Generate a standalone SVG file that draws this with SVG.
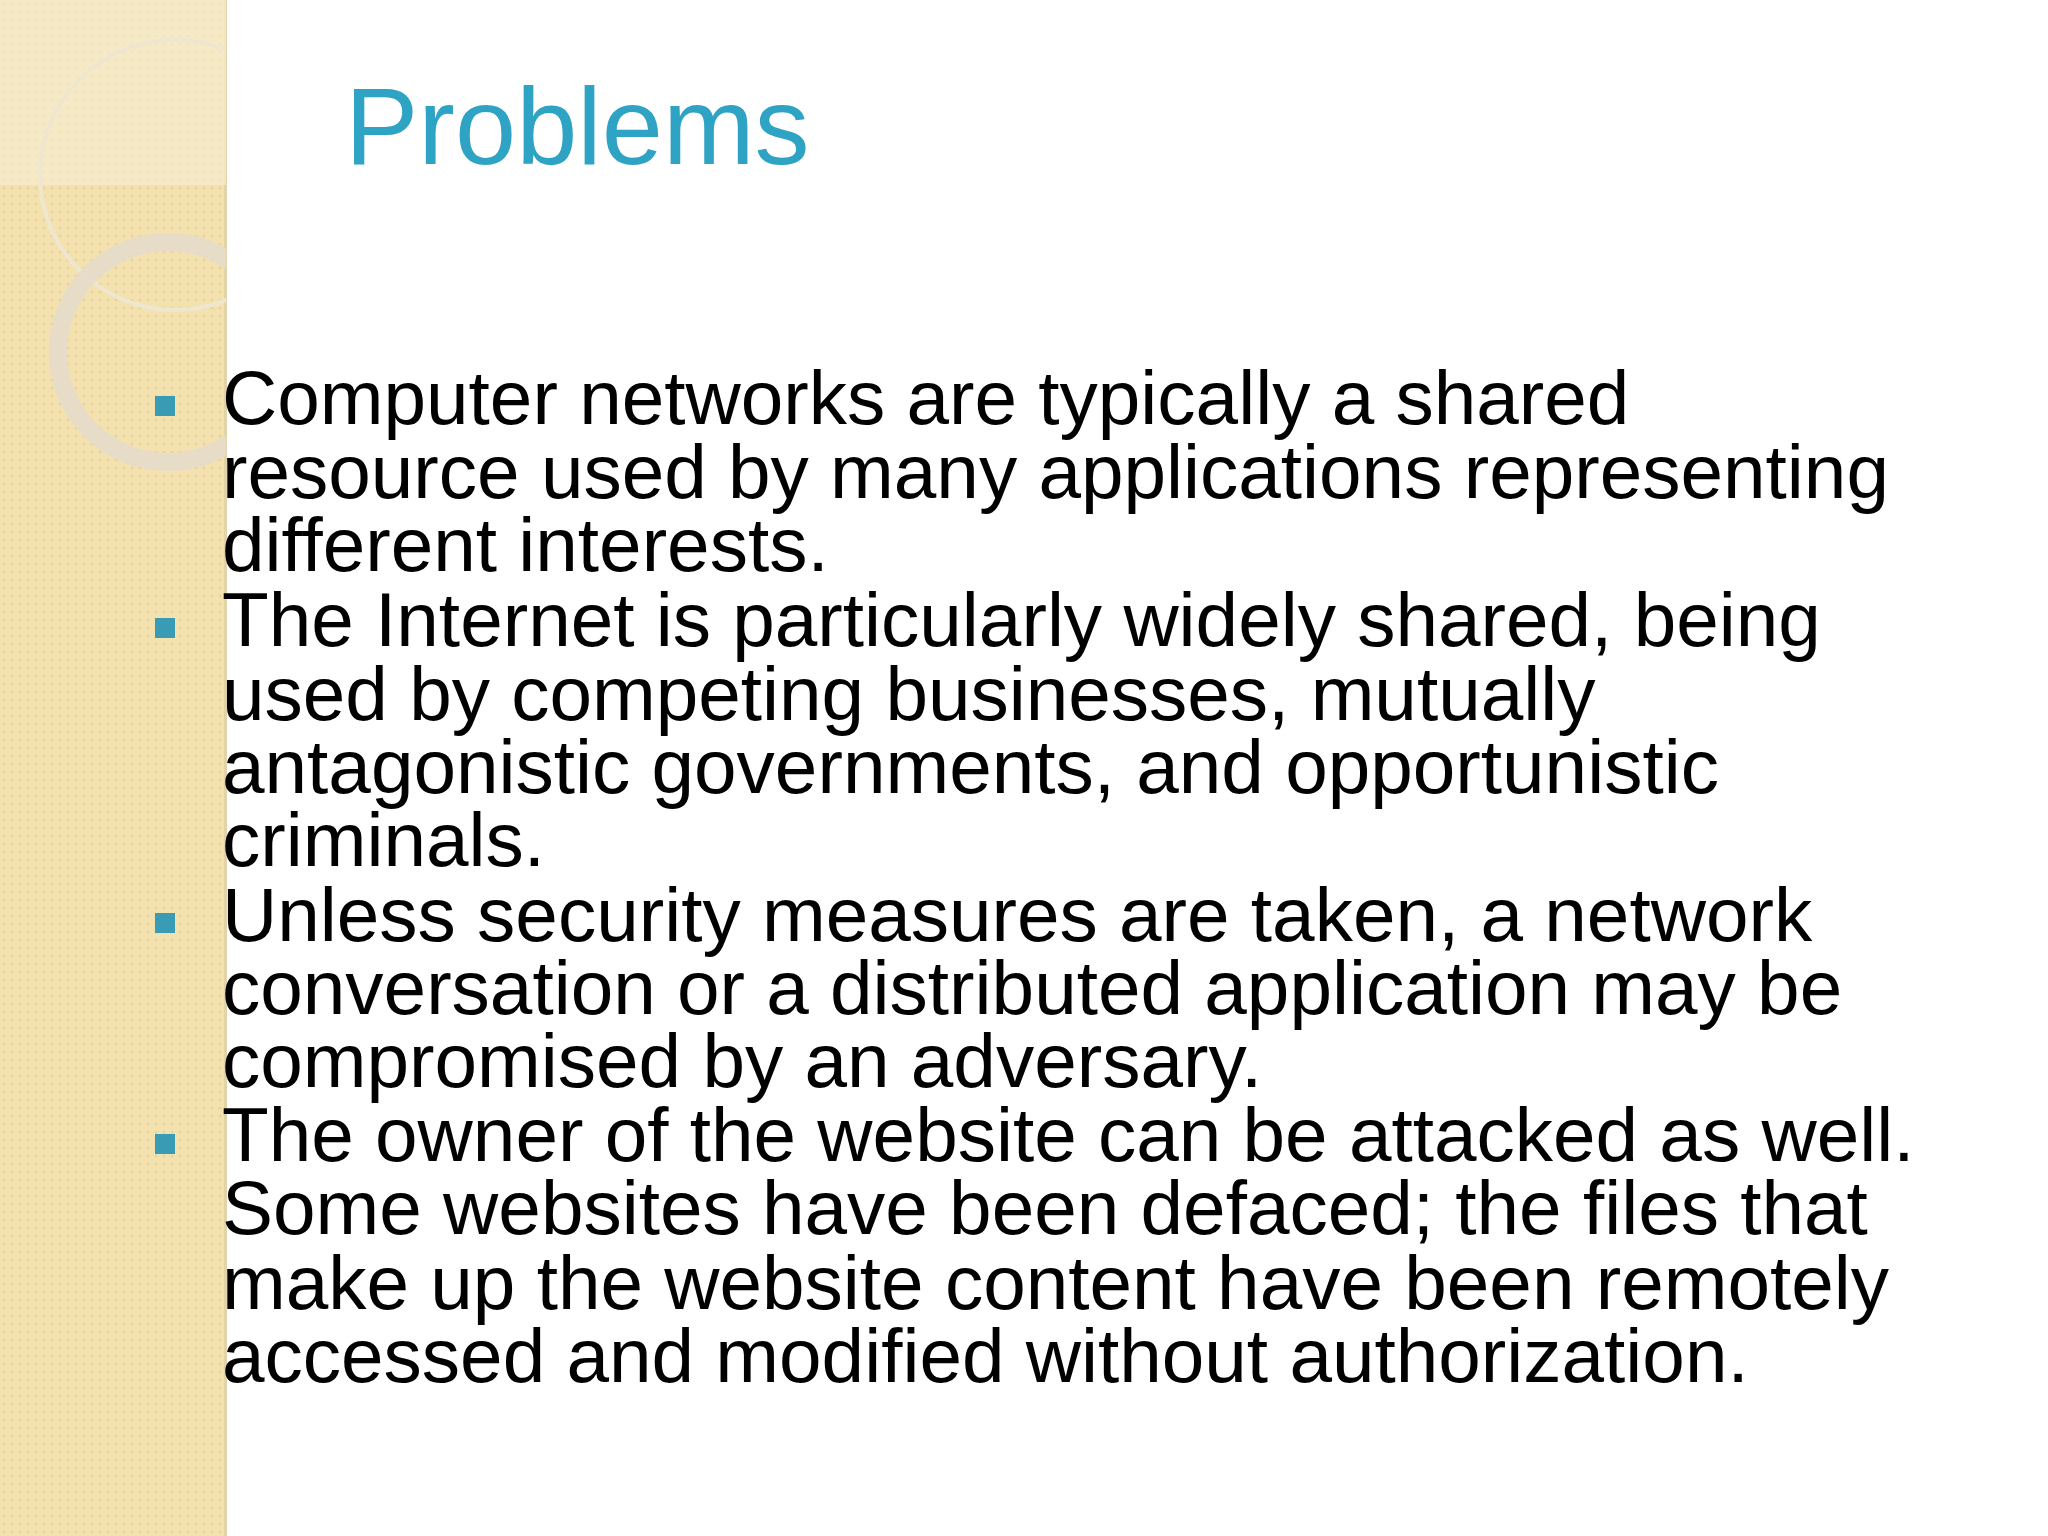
<svg xmlns="http://www.w3.org/2000/svg" width="2048" height="1536" viewBox="0 0 2048 1536">
<defs>
<pattern id="dots" width="8" height="8" patternUnits="userSpaceOnUse">
<rect width="8" height="8" fill="#f3e2b0"/>
<circle cx="4" cy="4" r="1.6" fill="#e9d49a"/>
</pattern>
<clipPath id="strip"><rect x="0" y="0" width="226" height="1536"/></clipPath>
</defs>
<style>
.b{font-family:"Liberation Sans",Arial,sans-serif;font-size:76.5px;fill:#000}
.bul{fill:#3a9bb5}
</style>
<rect width="2048" height="1536" fill="#fff"/>
<rect x="0" y="0" width="226" height="1536" fill="url(#dots)"/>
<rect x="224" y="0" width="3" height="1536" fill="#e3d3a8"/>
<g clip-path="url(#strip)">
<rect x="0" y="0" width="226" height="185" fill="#f6ecd0" opacity="0.7"/>
<circle cx="175" cy="175" r="135" fill="none" stroke="#efe6d0" stroke-width="4"/>
<circle cx="168" cy="352" r="110" fill="none" stroke="#e4dccb" stroke-width="18" opacity="0.9"/>
</g>
<text x="345" y="164" font-family="Liberation Sans,Arial,sans-serif" font-size="110" fill="#2fa3c3">Problems</text>
<g id="bullets">
<rect class="bul" x="155" y="396" width="20" height="20"/>
<rect class="bul" x="155" y="618" width="20" height="20"/>
<rect class="bul" x="155" y="913" width="20" height="20"/>
<rect class="bul" x="155" y="1134" width="20" height="20"/>
</g>
<g id="text">
<text class="b" x="222" y="424">Computer networks are typically a shared</text>
<text class="b" x="222" y="498">resource used by many applications representing</text>
<text class="b" x="222" y="571">different interests.</text>
<text class="b" x="222" y="646">The Internet is particularly widely shared, being</text>
<text class="b" x="222" y="720">used by competing businesses, mutually</text>
<text class="b" x="222" y="793">antagonistic governments, and opportunistic</text>
<text class="b" x="222" y="866">criminals.</text>
<text class="b" x="222" y="941">Unless security measures are taken, a network</text>
<text class="b" x="222" y="1014">conversation or a distributed application may be</text>
<text class="b" x="222" y="1087">compromised by an adversary.</text>
<text class="b" x="222" y="1161">The owner of the website can be attacked as well.</text>
<text class="b" x="222" y="1234">Some websites have been defaced; the files that</text>
<text class="b" x="222" y="1309">make up the website content have been remotely</text>
<text class="b" x="222" y="1382">accessed and modified without authorization.</text>
</g>
</svg>
